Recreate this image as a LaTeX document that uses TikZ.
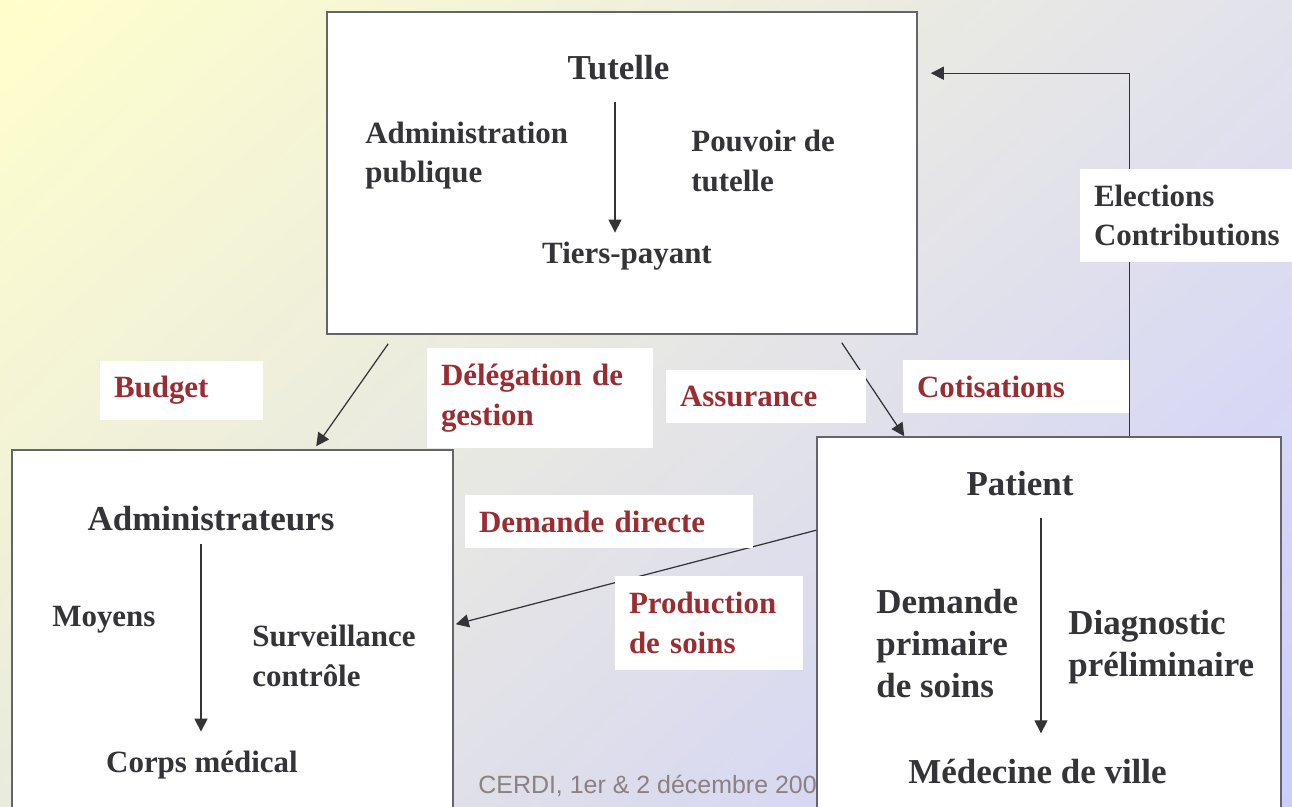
\documentclass[tikz,border=0pt]{standalone}
\usepackage{fontspec}
\setmainfont{Liberation Serif}
\newfontfamily\footfont{Liberation Sans}
\usetikzlibrary{arrows.meta,shadings}

\definecolor{txtgray}{RGB}{51,51,56}
\definecolor{lblred}{RGB}{153,45,50}
\definecolor{boxgray}{RGB}{100,100,108}
\definecolor{footgray}{RGB}{140,128,128}
\definecolor{bgyellow}{RGB}{255,255,204}
\definecolor{bgblue}{RGB}{204,204,255}
\definecolor{bgtopright}{RGB}{226,226,236}
\definecolor{bgbotleft}{RGB}{234,234,222}

\newcommand{\bodyfont}{\fontsize{17.6}{22.4}\selectfont\bfseries}
\newcommand{\headfont}{\fontsize{19.9}{23.9}\selectfont\bfseries}

\begin{document}
\begin{tikzpicture}[
    bigbox/.style={draw=boxgray,line width=0.9pt,fill=white,inner sep=0pt},
    txt/.style={text=txtgray,font=\bodyfont,align=left,inner sep=0pt},
    bigtxt/.style={text=txtgray,font=\headfont,align=left,inner sep=0pt},
    lbl/.style n args={2}{fill=white,text=lblred,font=\bodyfont,align=left,
        inner xsep=0.28cm,inner ysep=0pt,text width=#1,minimum height=#2},
    conn/.style={draw=txtgray,line width=0.7pt},
    >={Triangle[length=0.26cm,width=0.26cm]}]

    \useasboundingbox (0,0) rectangle (25.84,-16.14);
    \clip (0,0) rectangle (25.84,-16.14);
    \shade[upper left=bgyellow,upper right=bgtopright,
           lower left=bgbotleft,lower right=bgblue] (0,0) rectangle (25.84,-16.14);

    \node[font=\footfont\fontsize{14.2}{17}\selectfont,text=footgray,anchor=base west,inner sep=0pt]
        (foot) at (9.56,-15.86) {CERDI, 1er \& 2 décembre 200};

    % the three actors
    \node[bigbox,minimum width=11.8cm,minimum height=6.44cm] (tutelle) at (12.44,-3.46) {};
    \node[bigbox,minimum width=8.82cm,minimum height=8cm] (admin) at (4.65,-13.0) {};
    \node[bigbox,minimum width=9.28cm,minimum height=8.26cm] (patient) at (20.98,-12.87) {};

    \node[bigtxt] (tutHead) at (12.37,-1.36) {Tutelle};
    \node[txt,anchor=west] (adminPub) at (7.30,-3.11) {Administration\\publique};
    \node[txt,anchor=west] (pouvoir) at (13.82,-3.22) {Pouvoir de\\tutelle};
    \node[txt] (tiers) at (12.54,-5.12) {Tiers-payant};

    \node[bigtxt] (adminHead) at (4.22,-10.38) {Administrateurs};
    \node[txt,anchor=west] (moyens) at (1.04,-12.40) {Moyens};
    \node[txt,anchor=west] (surv) at (5.04,-13.12) {Surveillance\\contrôle};
    \node[txt] (corps) at (4.04,-15.30) {Corps médical};

    \node[bigtxt] (patHead) at (20.40,-9.68) {Patient};
    \node[bigtxt,anchor=west] (demPrim) at (17.52,-12.87) {Demande\\primaire\\de soins};
    \node[bigtxt,anchor=west] (diag) at (21.36,-12.95) {Diagnostic\\préliminaire};
    \node[bigtxt] (medVille) at (20.75,-15.44) {Médecine de ville};

    % flows inside the boxes
    \draw[conn,->,shorten <=0.42cm,shorten >=0.18cm] ([xshift=-0.07cm]tutHead.south) -- ([xshift=-0.07cm]tutHead.south |- tiers.north);
    \draw[conn,->,shorten <=0.24cm,shorten >=0.38cm] ([xshift=-0.2cm]adminHead.south) -- ([xshift=-0.2cm]adminHead.south |- corps.north);
    \draw[conn,->,shorten <=0.42cm,shorten >=0.52cm] ([xshift=0.42cm]patHead.south) -- ([xshift=0.42cm]patHead.south |- medVille.north);

    % flows between the actors
    \draw[conn,->] ([xshift=1.24cm,yshift=-0.18cm]tutelle.south west) -- ([xshift=6.1cm,yshift=0.06cm]admin.north west);
    \draw[conn,->] ([xshift=-1.52cm,yshift=-0.16cm]tutelle.south east) -- ([xshift=1.76cm]patient.north west);
    \draw[conn,->] ([yshift=-1.88cm]patient.north west) -- ([xshift=0.04cm,yshift=-3.5cm]admin.north east);
    \draw[conn,->] ([xshift=6.26cm]patient.north west) |- ([xshift=0.26cm,yshift=-1.24cm]tutelle.north east);

    \node[lbl={2.70cm}{1.18cm}] (budget) at (3.63,-7.81) {Budget};
    \node[lbl={3.96cm}{2.0cm}] (deleg) at (10.8,-7.96) {Délégation de\\gestion};
    \node[lbl={3.44cm}{1.06cm}] (assur) at (15.32,-7.93) {Assurance};
    \node[lbl={3.96cm}{1.06cm}] (cotis) at (20.32,-7.73) {Cotisations};
    \node[lbl={5.2cm}{1.06cm}] (demDir) at (12.18,-10.43) {Demande directe};
    \node[lbl={3.2cm}{1.88cm}] (prod) at (14.18,-12.46) {Production\\de soins};
    \node[lbl={3.68cm}{1.86cm},text=txtgray] (elect) at (23.72,-4.31) {Elections\\Contributions};
\end{tikzpicture}
\end{document}
